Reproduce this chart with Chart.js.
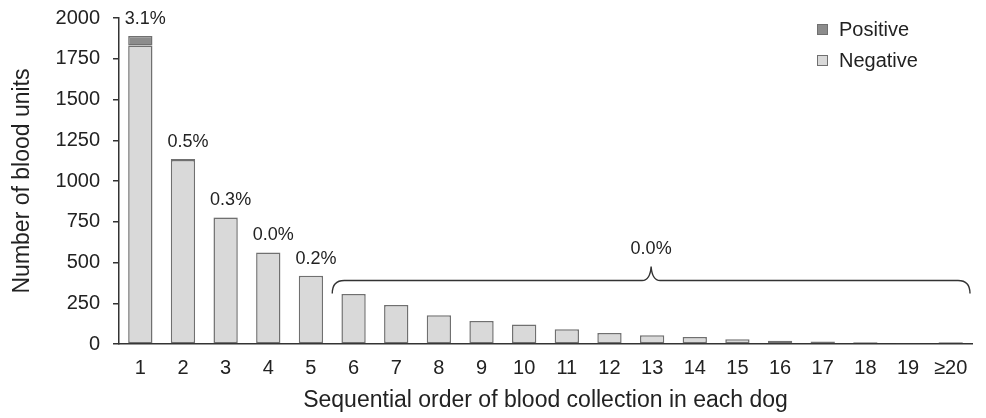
<!DOCTYPE html>
<html>
<head>
<meta charset="utf-8">
<script src="https://cdn.jsdelivr.net/npm/chart.js@4/dist/chart.umd.min.js"></script>
<style>
html,body{margin:0;padding:0;background:#fff;}
#wrap{width:986px;height:418px;position:relative;}
</style>
</head>
<body>
<div id="wrap"><canvas id="c" width="986" height="418"></canvas></div>
<script>
const categories = ['1','2','3','4','5','6','7','8','9','10','11','12','13','14','15','16','17','18','19','≥20'];
const negative = [1831,1129,775,562,418,307,239,176,141,119,90,67,53,43,29,20,16,10,6,10];
const positive = [59,6,2,0,1,0,0,0,0,0,0,0,0,0,0,0,0,0,0,0];
const pctLabels = ['3.1%','0.5%','0.3%','0.0%','0.2%'];
const groupLabel = '0.0%';
const groupFrom = 5;   // index of category "6"
const groupTo = 19;    // index of category "≥20"
const groupLevel = 390; // value level of the brace line
const yTicks = [0,250,500,750,1000,1250,1500,1750,2000];

const FONT = '"Liberation Sans", Arial, Helvetica, sans-serif';
const TXT = '#222222';
const AX = '#333333';

const annot = {
  id: 'annot',
  afterDatasetsDraw(chart) {
    const ctx = chart.ctx, xs = chart.scales.x, ys = chart.scales.y;
    ctx.save();
    ctx.fillStyle = TXT;
    ctx.textAlign = 'center';
    ctx.textBaseline = 'middle';
    ctx.font = '18px ' + FONT;
    pctLabels.forEach((t, i) => {
      const tot = negative[i] + positive[i];
      ctx.fillText(t, xs.getPixelForValue(i) + 5, ys.getPixelForValue(tot) - 17);
    });
    // brace
    const step = xs.getPixelForValue(1) - xs.getPixelForValue(0);
    const L = xs.getPixelForValue(groupFrom) - step / 2;
    const R = xs.getPixelForValue(groupTo) + step / 2 - 2;
    const M = (L + R) / 2;
    const yb = ys.getPixelForValue(groupLevel);
    ctx.strokeStyle = '#333';
    ctx.lineWidth = 1.4;
    ctx.beginPath();
    ctx.moveTo(L, yb + 13);
    ctx.quadraticCurveTo(L, yb, L + 12, yb);
    ctx.lineTo(M - 9, yb);
    ctx.quadraticCurveTo(M - 1, yb, M, yb - 14);
    ctx.quadraticCurveTo(M + 1, yb, M + 9, yb);
    ctx.lineTo(R - 12, yb);
    ctx.quadraticCurveTo(R, yb, R, yb + 13);
    ctx.stroke();
    ctx.fillText(groupLabel, M, yb - 31);
    // legend
    const items = [chart.data.datasets[1], chart.data.datasets[0]];
    ctx.font = '20px ' + FONT;
    ctx.textAlign = 'left';
    items.forEach((ds, k) => {
      const cy = 29.5 + k * 31;
      ctx.fillStyle = ds.backgroundColor;
      ctx.fillRect(817, cy - 5.5, 11, 11);
      ctx.strokeStyle = '#707070';
      ctx.lineWidth = 1;
      ctx.strokeRect(817.5, cy - 5, 10, 10);
      ctx.fillStyle = TXT;
      ctx.fillText(ds.label, 839, cy + 1);
    });
    ctx.restore();
  }
};

const bw = c => (c.raw ? 1.5 : 0);

new Chart(document.getElementById('c'), {
  type: 'bar',
  data: {
    labels: categories,
    datasets: [
      { label: 'Negative', data: negative, backgroundColor: '#d9d9d9', borderColor: '#707070', borderWidth: bw, borderSkipped: false, barPercentage: 0.57, categoryPercentage: 1 },
      { label: 'Positive', data: positive, backgroundColor: '#8c8c8c', borderColor: '#707070', borderWidth: bw, borderSkipped: false, barPercentage: 0.57, categoryPercentage: 1 }
    ]
  },
  options: {
    responsive: false,
    animation: false,
    layout: { padding: { top: 18, right: 14, left: 0, bottom: 0 } },
    plugins: { legend: { display: false }, tooltip: { enabled: false } },
    scales: {
      x: {
        stacked: true,
        grid: { display: false, drawTicks: false },
        border: { display: true, color: AX, width: 1.5 },
        ticks: { color: TXT, font: { size: 20, family: FONT }, padding: 12, maxRotation: 0, autoSkip: false },
        title: { display: true, text: 'Sequential order of blood collection in each dog', color: TXT, font: { size: 23, family: FONT }, padding: { top: 0, bottom: 4 } },
        afterFit(s) { s.height = 74; }
      },
      y: {
        stacked: true,
        min: 0, max: 2000,
        afterBuildTicks(s) { s.ticks = yTicks.map(v => ({ value: v })); },
        grid: { drawOnChartArea: false, drawTicks: true, tickLength: 6, color: AX, lineWidth: 1.5 },
        border: { display: true, color: AX, width: 1.5 },
        ticks: { color: TXT, font: { size: 20, family: FONT }, padding: 13, callback: v => String(v) },
        title: { display: true, text: 'Number of blood units', color: TXT, font: { size: 23, family: FONT }, padding: { top: 9, bottom: 4 } },
        afterFit(s) { s.width = 119; s.paddingTop = 0; s.paddingBottom = 0; }
      }
    }
  },
  plugins: [annot]
});
</script>
</body>
</html>
